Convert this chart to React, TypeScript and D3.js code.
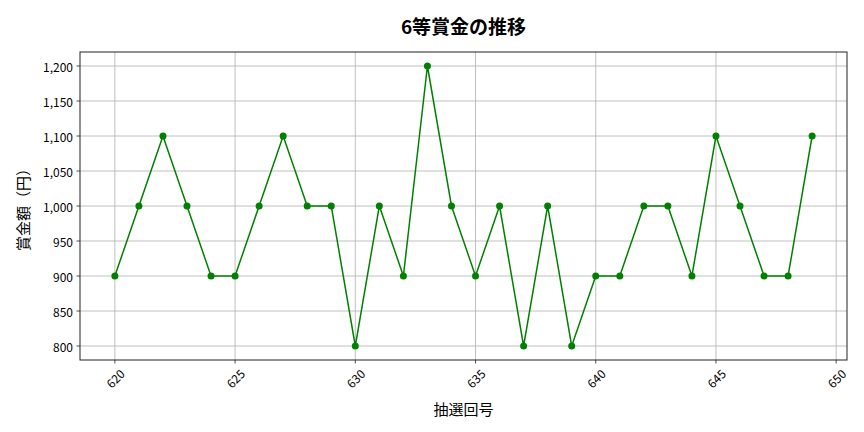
import React, { useEffect, useRef } from 'react';
import * as d3 from 'd3';

const drawNumbers = [
  620, 621, 622, 623, 624, 625, 626, 627, 628, 629,
  630, 631, 632, 633, 634, 635, 636, 637, 638, 639,
  640, 641, 642, 643, 644, 645, 646, 647, 648, 649,
];
const prizes = [
  900, 1000, 1100, 1000, 900, 900, 1000, 1100, 1000, 1000,
  800, 1000, 900, 1200, 1000, 900, 1000, 800, 1000, 800,
  900, 900, 1000, 1000, 900, 1100, 1000, 900, 900, 1100,
];
const xTicks = [620, 625, 630, 635, 640, 645, 650];
const yTicks = [800, 850, 900, 950, 1000, 1050, 1100, 1150, 1200];

const FONT = '"Noto Sans CJK JP", "Noto Sans", sans-serif';

const App: React.FC = () => {
  const svgRef = useRef<SVGSVGElement | null>(null);

  useEffect(() => {
    document.body.style.margin = '0';
    if (!svgRef.current) return;

    const width = 864;
    const height = 432;
    const margin = { top: 52, right: 17, bottom: 72, left: 80 };
    const w = width - margin.left - margin.right;
    const h = height - margin.top - margin.bottom;

    const root = d3.select(svgRef.current);
    root.selectAll('*').remove();
    root.attr('width', width).attr('height', height).style('font-family', FONT);

    root.append('rect').attr('width', width).attr('height', height).attr('fill', '#fff');

    const svg = root.append('g').attr('transform', `translate(${margin.left},${margin.top})`);

    const x = d3.scaleLinear().domain([618.55, 650.45]).range([0, w]);
    const y = d3.scaleLinear().domain([780, 1220]).range([h, 0]);

    // grid
    svg.append('g')
      .selectAll('line')
      .data(xTicks)
      .enter().append('line')
      .attr('x1', d => x(d)).attr('x2', d => x(d))
      .attr('y1', 0).attr('y2', h)
      .attr('stroke', '#b0b0b0').attr('stroke-width', 0.8);
    svg.append('g')
      .selectAll('line')
      .data(yTicks)
      .enter().append('line')
      .attr('x1', 0).attr('x2', w)
      .attr('y1', d => y(d)).attr('y2', d => y(d))
      .attr('stroke', '#b0b0b0').attr('stroke-width', 0.8);

    // line + points
    const pts = drawNumbers.map((n, i) => ({ n, v: prizes[i] }));
    svg.append('path')
      .datum(pts)
      .attr('fill', 'none')
      .attr('stroke', 'green')
      .attr('stroke-width', 1.5)
      .attr('d', d3.line<{ n: number; v: number }>().x(d => x(d.n)).y(d => y(d.v)));
    svg.selectAll('.pt')
      .data(pts)
      .enter().append('circle')
      .attr('class', 'pt')
      .attr('cx', d => x(d.n))
      .attr('cy', d => y(d.v))
      .attr('r', 3.5)
      .attr('fill', 'green');

    // frame
    svg.append('rect')
      .attr('width', w).attr('height', h)
      .attr('fill', 'none').attr('stroke', '#222').attr('stroke-width', 1);

    // x ticks
    const xt = svg.append('g');
    xTicks.forEach(t => {
      xt.append('line')
        .attr('x1', x(t)).attr('x2', x(t)).attr('y1', h).attr('y2', h + 3.5)
        .attr('stroke', '#222').attr('stroke-width', 0.8);
      xt.append('text')
        .attr('x', x(t)).attr('y', h + 18)
        .attr('text-anchor', 'middle')
        .attr('dominant-baseline', 'central')
        .attr('transform', `rotate(-45,${x(t)},${h + 18})`)
        .style('font-size', '12px')
        .attr('fill', '#000')
        .text(String(t));
    });

    // y ticks
    const fmt = d3.format(',');
    const yt = svg.append('g');
    yTicks.forEach(t => {
      yt.append('line')
        .attr('x1', -3.5).attr('x2', 0).attr('y1', y(t)).attr('y2', y(t))
        .attr('stroke', '#222').attr('stroke-width', 0.8);
      yt.append('text')
        .attr('x', -7).attr('y', y(t))
        .attr('text-anchor', 'end')
        .attr('dominant-baseline', 'central')
        .style('font-size', '12px')
        .attr('fill', '#000')
        .text(fmt(t));
    });

    // title
    root.append('text')
      .attr('x', margin.left + w / 2).attr('y', 25)
      .attr('text-anchor', 'middle').attr('dominant-baseline', 'central')
      .style('font-size', '19px').style('font-weight', 'bold')
      .text('6等賞金の推移');

    // axis labels
    root.append('text')
      .attr('x', margin.left + w / 2).attr('y', 408)
      .attr('text-anchor', 'middle').attr('dominant-baseline', 'central')
      .style('font-size', '15px')
      .text('抽選回号');
    root.append('text')
      .attr('transform', `translate(22,${margin.top + h / 2}) rotate(-90)`)
      .attr('text-anchor', 'middle').attr('dominant-baseline', 'central')
      .style('font-size', '15px')
      .text('賞金額（円）');
  }, []);

  return <svg ref={svgRef} style={{ display: 'block' }} />;
};

export default App;
